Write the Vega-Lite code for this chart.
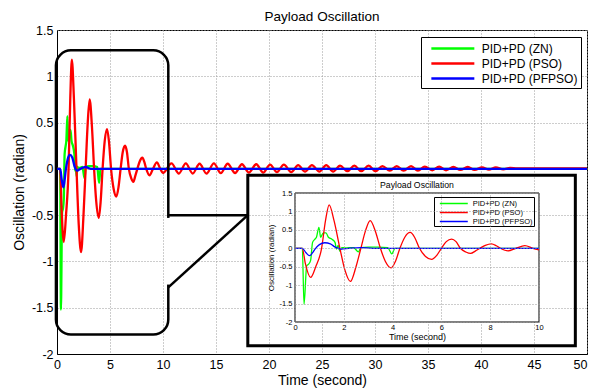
{
  "$schema": "https://vega.github.io/schema/vega-lite/v6.json",
  "width": 530,
  "height": 324,
  "autosize": {"type": "none"},
  "padding": {"left": 57, "top": 30, "right": 4, "bottom": 34},
  "background": "white",
  "config": {"font": "Liberation Sans", "view": {"stroke": "black", "strokeWidth": 1}},
  "title": {"text": "Payload Oscillation", "fontSize": 13.5, "fontWeight": "normal", "color": "black", "offset": 1, "anchor": "middle", "frame": "group"},
  "datasets": {
    "osc": [
      {"series": "PID+PD (ZN)", "t": 0, "v": 0},
      {"series": "PID+PD (ZN)", "t": 0.3, "v": 0},
      {"series": "PID+PD (ZN)", "t": 0.37, "v": -1.52},
      {"series": "PID+PD (ZN)", "t": 0.48, "v": -0.47},
      {"series": "PID+PD (ZN)", "t": 0.56, "v": -0.43},
      {"series": "PID+PD (ZN)", "t": 0.64, "v": -0.33},
      {"series": "PID+PD (ZN)", "t": 0.72, "v": 0.16},
      {"series": "PID+PD (ZN)", "t": 0.82, "v": 0.25},
      {"series": "PID+PD (ZN)", "t": 0.88, "v": 0.3},
      {"series": "PID+PD (ZN)", "t": 0.98, "v": 0.57},
      {"series": "PID+PD (ZN)", "t": 1.05, "v": 0.3},
      {"series": "PID+PD (ZN)", "t": 1.16, "v": 0.42},
      {"series": "PID+PD (ZN)", "t": 1.27, "v": 0.42},
      {"series": "PID+PD (ZN)", "t": 1.37, "v": 0.3},
      {"series": "PID+PD (ZN)", "t": 1.5, "v": 0.25},
      {"series": "PID+PD (ZN)", "t": 1.64, "v": 0.16},
      {"series": "PID+PD (ZN)", "t": 1.7, "v": -0.02},
      {"series": "PID+PD (ZN)", "t": 1.77, "v": 0.08},
      {"series": "PID+PD (ZN)", "t": 1.84, "v": -0.08},
      {"series": "PID+PD (ZN)", "t": 1.92, "v": 0.02},
      {"series": "PID+PD (ZN)", "t": 2.05, "v": 0.01},
      {"series": "PID+PD (ZN)", "t": 2.4, "v": 0.02},
      {"series": "PID+PD (ZN)", "t": 2.6, "v": -0.1},
      {"series": "PID+PD (ZN)", "t": 2.7, "v": 0.02},
      {"series": "PID+PD (ZN)", "t": 3.0, "v": 0.03},
      {"series": "PID+PD (ZN)", "t": 3.4, "v": 0.03},
      {"series": "PID+PD (ZN)", "t": 3.8, "v": 0.02},
      {"series": "PID+PD (ZN)", "t": 3.97, "v": -0.15},
      {"series": "PID+PD (ZN)", "t": 4.1, "v": 0},
      {"series": "PID+PD (ZN)", "t": 5, "v": 0},
      {"series": "PID+PD (ZN)", "t": 10, "v": 0},
      {"series": "PID+PD (ZN)", "t": 50, "v": 0},
      {"series": "PID+PD (PSO)", "t": 0, "v": 0},
      {"series": "PID+PD (PSO)", "t": 0.3, "v": 0},
      {"series": "PID+PD (PSO)", "t": 0.42, "v": -0.4},
      {"series": "PID+PD (PSO)", "t": 0.64, "v": -0.79},
      {"series": "PID+PD (PSO)", "t": 0.85, "v": -0.5},
      {"series": "PID+PD (PSO)", "t": 1.09, "v": 0},
      {"series": "PID+PD (PSO)", "t": 1.25, "v": 0.75},
      {"series": "PID+PD (PSO)", "t": 1.4, "v": 1.18},
      {"series": "PID+PD (PSO)", "t": 1.6, "v": 0.75},
      {"series": "PID+PD (PSO)", "t": 1.84, "v": 0},
      {"series": "PID+PD (PSO)", "t": 2.05, "v": -0.6},
      {"series": "PID+PD (PSO)", "t": 2.27, "v": -0.9},
      {"series": "PID+PD (PSO)", "t": 2.5, "v": -0.5},
      {"series": "PID+PD (PSO)", "t": 2.7, "v": 0},
      {"series": "PID+PD (PSO)", "t": 2.9, "v": 0.5},
      {"series": "PID+PD (PSO)", "t": 3.08, "v": 0.75},
      {"series": "PID+PD (PSO)", "t": 3.3, "v": 0.45},
      {"series": "PID+PD (PSO)", "t": 3.5, "v": 0},
      {"series": "PID+PD (PSO)", "t": 3.7, "v": -0.35},
      {"series": "PID+PD (PSO)", "t": 3.94, "v": -0.53},
      {"series": "PID+PD (PSO)", "t": 4.12, "v": -0.35},
      {"series": "PID+PD (PSO)", "t": 4.3, "v": 0},
      {"series": "PID+PD (PSO)", "t": 4.5, "v": 0.3},
      {"series": "PID+PD (PSO)", "t": 4.72, "v": 0.43},
      {"series": "PID+PD (PSO)", "t": 4.9, "v": 0.3},
      {"series": "PID+PD (PSO)", "t": 5.1, "v": 0},
      {"series": "PID+PD (PSO)", "t": 5.35, "v": -0.22},
      {"series": "PID+PD (PSO)", "t": 5.6, "v": -0.3},
      {"series": "PID+PD (PSO)", "t": 5.8, "v": -0.2},
      {"series": "PID+PD (PSO)", "t": 6.0, "v": 0},
      {"series": "PID+PD (PSO)", "t": 6.2, "v": 0.18},
      {"series": "PID+PD (PSO)", "t": 6.42, "v": 0.25},
      {"series": "PID+PD (PSO)", "t": 6.6, "v": 0.18},
      {"series": "PID+PD (PSO)", "t": 6.78, "v": 0},
      {"series": "PID+PD (PSO)", "t": 7.0, "v": -0.1},
      {"series": "PID+PD (PSO)", "t": 7.2, "v": -0.14},
      {"series": "PID+PD (PSO)", "t": 7.4, "v": -0.07},
      {"series": "PID+PD (PSO)", "t": 7.58, "v": 0},
      {"series": "PID+PD (PSO)", "t": 7.8, "v": 0.08},
      {"series": "PID+PD (PSO)", "t": 8.05, "v": 0.12},
      {"series": "PID+PD (PSO)", "t": 8.25, "v": 0.07},
      {"series": "PID+PD (PSO)", "t": 8.42, "v": 0},
      {"series": "PID+PD (PSO)", "t": 8.73, "v": -0.07},
      {"series": "PID+PD (PSO)", "t": 9.05, "v": 0},
      {"series": "PID+PD (PSO)", "t": 9.42, "v": 0.07},
      {"series": "PID+PD (PSO)", "t": 9.75, "v": 0},
      {"series": "PID+PD (PSO)", "t": 10.0, "v": -0.045},
      {"series": "PID+PD (PSO)", "t": 10.8, "v": 0.06},
      {"series": "PID+PD (PSO)", "t": 11.5, "v": -0.05},
      {"series": "PID+PD (PSO)", "t": 12.15, "v": 0.06},
      {"series": "PID+PD (PSO)", "t": 12.8, "v": -0.05},
      {"series": "PID+PD (PSO)", "t": 13.45, "v": 0.055},
      {"series": "PID+PD (PSO)", "t": 14.1, "v": -0.05},
      {"series": "PID+PD (PSO)", "t": 14.8, "v": 0.06},
      {"series": "PID+PD (PSO)", "t": 15.45, "v": -0.045},
      {"series": "PID+PD (PSO)", "t": 16.1, "v": 0.055},
      {"series": "PID+PD (PSO)", "t": 16.8, "v": -0.045},
      {"series": "PID+PD (PSO)", "t": 17.45, "v": 0.05},
      {"series": "PID+PD (PSO)", "t": 18.1, "v": -0.04},
      {"series": "PID+PD (PSO)", "t": 18.8, "v": 0.05},
      {"series": "PID+PD (PSO)", "t": 19.45, "v": -0.04},
      {"series": "PID+PD (PSO)", "t": 20.1, "v": 0.045},
      {"series": "PID+PD (PSO)", "t": 20.75, "v": -0.035},
      {"series": "PID+PD (PSO)", "t": 21.4, "v": 0.045},
      {"series": "PID+PD (PSO)", "t": 22.1, "v": -0.035},
      {"series": "PID+PD (PSO)", "t": 22.75, "v": 0.04},
      {"series": "PID+PD (PSO)", "t": 23.4, "v": -0.03},
      {"series": "PID+PD (PSO)", "t": 24.05, "v": 0.04},
      {"series": "PID+PD (PSO)", "t": 24.75, "v": -0.03},
      {"series": "PID+PD (PSO)", "t": 25.4, "v": 0.04},
      {"series": "PID+PD (PSO)", "t": 26.05, "v": -0.03},
      {"series": "PID+PD (PSO)", "t": 26.7, "v": 0.035},
      {"series": "PID+PD (PSO)", "t": 27.4, "v": -0.025},
      {"series": "PID+PD (PSO)", "t": 28.05, "v": 0.035},
      {"series": "PID+PD (PSO)", "t": 28.7, "v": -0.025},
      {"series": "PID+PD (PSO)", "t": 29.4, "v": 0.035},
      {"series": "PID+PD (PSO)", "t": 30.05, "v": -0.025},
      {"series": "PID+PD (PSO)", "t": 30.7, "v": 0.03},
      {"series": "PID+PD (PSO)", "t": 31.4, "v": -0.02},
      {"series": "PID+PD (PSO)", "t": 32.05, "v": 0.03},
      {"series": "PID+PD (PSO)", "t": 32.7, "v": -0.02},
      {"series": "PID+PD (PSO)", "t": 33.4, "v": 0.03},
      {"series": "PID+PD (PSO)", "t": 34.05, "v": -0.02},
      {"series": "PID+PD (PSO)", "t": 34.7, "v": 0.025},
      {"series": "PID+PD (PSO)", "t": 35.4, "v": -0.015},
      {"series": "PID+PD (PSO)", "t": 36.05, "v": 0.025},
      {"series": "PID+PD (PSO)", "t": 36.7, "v": -0.015},
      {"series": "PID+PD (PSO)", "t": 37.4, "v": 0.02},
      {"series": "PID+PD (PSO)", "t": 38.05, "v": -0.01},
      {"series": "PID+PD (PSO)", "t": 38.75, "v": 0.02},
      {"series": "PID+PD (PSO)", "t": 39.4, "v": -0.01},
      {"series": "PID+PD (PSO)", "t": 40.1, "v": 0.015},
      {"series": "PID+PD (PSO)", "t": 40.75, "v": -0.008},
      {"series": "PID+PD (PSO)", "t": 41.4, "v": 0.015},
      {"series": "PID+PD (PSO)", "t": 42.1, "v": -0.005},
      {"series": "PID+PD (PSO)", "t": 42.75, "v": 0.01},
      {"series": "PID+PD (PSO)", "t": 43.4, "v": 0.005},
      {"series": "PID+PD (PSO)", "t": 50, "v": 0.005},
      {"series": "PID+PD (PFPSO)", "t": 0, "v": 0},
      {"series": "PID+PD (PFPSO)", "t": 0.3, "v": 0},
      {"series": "PID+PD (PFPSO)", "t": 0.45, "v": -0.12},
      {"series": "PID+PD (PFPSO)", "t": 0.6, "v": -0.2},
      {"series": "PID+PD (PFPSO)", "t": 0.72, "v": -0.12},
      {"series": "PID+PD (PFPSO)", "t": 0.82, "v": -0.02},
      {"series": "PID+PD (PFPSO)", "t": 1.0, "v": 0.1},
      {"series": "PID+PD (PFPSO)", "t": 1.22, "v": 0.15},
      {"series": "PID+PD (PFPSO)", "t": 1.45, "v": 0.12},
      {"series": "PID+PD (PFPSO)", "t": 1.65, "v": 0.03},
      {"series": "PID+PD (PFPSO)", "t": 1.9, "v": -0.02},
      {"series": "PID+PD (PFPSO)", "t": 2.2, "v": 0},
      {"series": "PID+PD (PFPSO)", "t": 2.7, "v": 0.02},
      {"series": "PID+PD (PFPSO)", "t": 3.2, "v": 0},
      {"series": "PID+PD (PFPSO)", "t": 10, "v": 0},
      {"series": "PID+PD (PFPSO)", "t": 50, "v": 0}
    ]
  },
  "layer": [
    {
      "layer": [
        {
          "data": {"name": "osc"},
          "mark": {"type": "line", "strokeWidth": 2.3, "interpolate": "monotone"},
          "encoding": {
            "x": {"field": "t", "type": "quantitative", "scale": {"domain": [0, 50], "nice": false, "zero": false},
              "axis": {"orient": "bottom", "values": [0, 5, 10, 15, 20, 25, 30, 35, 40, 45, 50], "grid": true, "gridColor": "#9a9a9a", "gridDash": [1, 2], "ticks": false, "domainColor": "black", "labelColor": "black", "labelFontSize": 12.5, "labelPadding": 4, "labelFlush": false,
                "labelAlign": {"condition": {"test": "datum.value == 50", "value": "right"}, "value": "center"},
                "title": "Time (second)", "titleFontSize": 14, "titleFontWeight": "normal", "titleColor": "black", "titlePadding": 3}},
            "y": {"field": "v", "type": "quantitative", "scale": {"domain": [-2, 1.5], "nice": false, "zero": false},
              "axis": {"orient": "left", "values": [-2, -1.5, -1, -0.5, 0, 0.5, 1, 1.5], "labelExpr": "toString(datum.value)", "grid": true, "gridColor": "#9a9a9a", "gridDash": [1, 2], "ticks": false, "domainColor": "black", "labelColor": "black", "labelFontSize": 12.5, "labelPadding": 4, "labelFlush": false, "title": "Oscillation (radian)", "titleFontSize": 14, "titleFontWeight": "normal", "titleColor": "black", "titlePadding": 5}},
            "color": {"field": "series", "type": "nominal",
              "scale": {"domain": ["PID+PD (ZN)", "PID+PD (PSO)", "PID+PD (PFPSO)"], "range": ["#00ff00", "#ff0000", "#0000ff"]},
              "legend": {"orient": "none", "legendX": 364, "legendY": 7, "title": null, "strokeColor": "black", "fillColor": "white", "padding": 3, "labelFontSize": 12, "labelColor": "black", "symbolType": "M-0.16,0H5.83", "symbolSize": 206, "symbolStrokeWidth": 2.5, "rowPadding": -1.5, "labelOffset": 40.7}}
          }
        },
        {
          "data": {"values": [{}]},
          "mark": {"type": "rect", "fill": "white", "fillOpacity": 0, "stroke": "black", "strokeWidth": 2.5, "cornerRadius": 15},
          "encoding": {
            "x": {"datum": -0.1, "type": "quantitative"},
            "x2": {"datum": 10.5},
            "y": {"datum": 1.28, "type": "quantitative"},
            "y2": {"datum": -1.79}
          }
        },
        {
          "data": {"values": [{}]},
          "mark": {"type": "rule", "stroke": "white", "strokeWidth": 5},
          "encoding": {
            "x": {"datum": 10.5, "type": "quantitative"},
            "y": {"datum": -0.53, "type": "quantitative"},
            "y2": {"datum": -1.25}
          }
        },
        {
          "data": {"values": [{}]},
          "mark": {"type": "rule", "stroke": "black", "strokeWidth": 2.5},
          "encoding": {
            "x": {"datum": 10.5, "type": "quantitative"},
            "x2": {"datum": 18},
            "y": {"datum": -0.5, "type": "quantitative"},
            "y2": {"datum": -0.5}
          }
        },
        {
          "data": {"values": [{}]},
          "mark": {"type": "rule", "stroke": "black", "strokeWidth": 2.5},
          "encoding": {
            "x": {"datum": 10.5, "type": "quantitative"},
            "x2": {"datum": 18},
            "y": {"datum": -1.28, "type": "quantitative"},
            "y2": {"datum": -0.5}
          }
        },
        {
          "data": {"values": [{}]},
          "mark": {"type": "rect", "fill": "white", "fillOpacity": 0, "stroke": "black", "strokeWidth": 3},
          "encoding": {
            "x": {"datum": 18, "type": "quantitative"},
            "x2": {"datum": 48.9},
            "y": {"datum": -0.07, "type": "quantitative"},
            "y2": {"datum": -1.91}
          }
        }
      ]
    },
    {
      "layer": [
        {
          "data": {"values": [{}]},
          "mark": {"type": "rect", "fill": "white", "stroke": "black", "strokeWidth": 1},
          "encoding": {
            "x": {"datum": 0, "type": "quantitative", "scale": {"domain": [0, 10], "range": [238, 482], "nice": false, "zero": false}},
            "x2": {"datum": 10},
            "y": {"datum": -2, "type": "quantitative", "scale": {"domain": [-2, 1.5], "range": [292, 163], "nice": false, "zero": false}},
            "y2": {"datum": 1.5}
          }
        },
        {
          "data": {"name": "osc"},
          "transform": [{"filter": "datum.t <= 10"}],
          "mark": {"type": "line", "strokeWidth": 1.3, "interpolate": "monotone"},
          "encoding": {
            "x": {"field": "t", "type": "quantitative", "scale": {"domain": [0, 10], "range": [238, 482], "nice": false, "zero": false},
              "axis": {"orient": "top", "offset": -292, "values": [0, 2, 4, 6, 8, 10], "zindex": 1, "grid": true, "gridColor": "#9a9a9a", "gridDash": [1, 2], "ticks": false, "domain": false, "labelColor": "black", "labelFontSize": 7.5, "labelPadding": -1, "labelBaseline": "top", "labelFlush": false, "title": "Time (second)", "titleFontSize": 9, "titleFontWeight": "normal", "titleColor": "black", "titleY": 14, "titleBaseline": "middle"}},
            "y": {"field": "v", "type": "quantitative", "scale": {"domain": [-2, 1.5], "range": [292, 163], "nice": false, "zero": false},
              "axis": {"orient": "left", "offset": -238, "values": [-2, -1.5, -1, -0.5, 0, 0.5, 1, 1.5], "labelExpr": "toString(datum.value)", "zindex": 1, "grid": true, "gridColor": "#9a9a9a", "gridDash": [1, 2], "ticks": false, "domain": false, "labelColor": "black", "labelFontSize": 7.5, "labelPadding": 3, "labelFlush": false, "title": "Oscillation (radian)", "titleFontSize": 8, "titleFontWeight": "normal", "titleColor": "black", "titlePadding": 4}},
            "color": {"field": "series", "type": "nominal",
              "scale": {"domain": ["PID+PD (ZN)", "PID+PD (PSO)", "PID+PD (PFPSO)"], "range": ["#00ff00", "#ff0000", "#0000ff"]},
              "legend": {"orient": "none", "legendX": 377, "legendY": 167, "title": null, "strokeColor": "black", "fillColor": "white", "padding": 1, "labelFontSize": 7.5, "labelColor": "black", "symbolType": "M-0.14,0H5.85", "symbolSize": 87, "symbolStrokeWidth": 1.5, "rowPadding": -1.8, "labelOffset": 26.7}}
          }
        },
        {
          "data": {"values": [{}]},
          "mark": {"type": "text", "text": "Payload Oscillation", "fontSize": 8.7, "color": "black", "baseline": "bottom", "dy": -3},
          "encoding": {
            "x": {"datum": 5, "type": "quantitative"},
            "y": {"datum": 1.5, "type": "quantitative"}
          }
        }
      ]
    }
  ],
  "resolve": {
    "scale": {"x": "independent", "y": "independent", "color": "independent"},
    "axis": {"x": "independent", "y": "independent"},
    "legend": {"color": "independent"}
  }
}
